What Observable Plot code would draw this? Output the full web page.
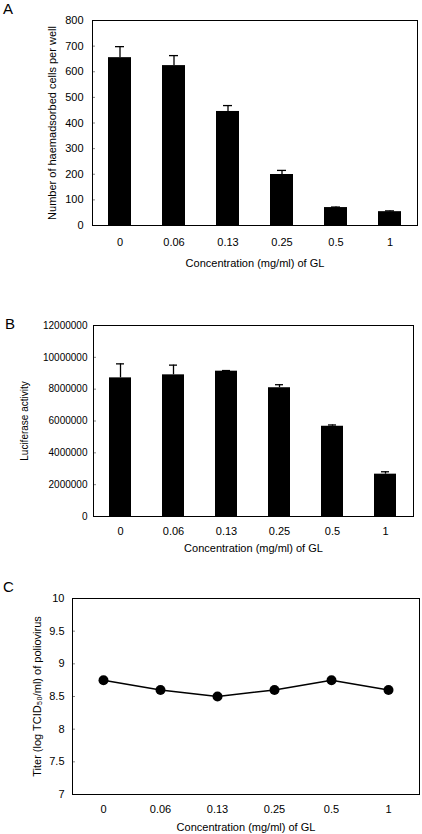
<!DOCTYPE html>
<html><head><meta charset="utf-8">
<script src="https://cdn.jsdelivr.net/npm/d3@7"></script>
<script src="https://cdn.jsdelivr.net/npm/@observablehq/plot@0.6"></script>
<style>
body{margin:0;background:#fff;}
#wrap{position:relative;width:422px;height:834px;font-family:"Liberation Sans",Arial,sans-serif;color:#000;}
.panel{position:absolute;left:0;}
.lbl{position:absolute;font-size:15px;line-height:1;}
</style></head>
<body><div id="wrap"></div>
<script>
const concentrations = ["0","0.06","0.13","0.25","0.5","1"];
const haemCells = [655, 624, 445, 199, 70, 54];
const haemSD = [43, 39, 23, 16, 2, 3];
const luciferase = [8710000, 8900000, 9130000, 8090000, 5670000, 2660000];
const luciferaseSD = [880000, 610000, 40000, 190000, 80000, 150000];
const titer = [8.75, 8.6, 8.5, 8.6, 8.75, 8.6];
const ticksA = [0,100,200,300,400,500,600,700,800];
const ticksB = [0,2000000,4000000,6000000,8000000,10000000,12000000];
const ticksC = [7,7.5,8,8.5,9,9.5,10];
const xTitle = "Concentration (mg/ml) of GL";

const wrap = document.getElementById("wrap");
const font = {fontFamily:'"Liberation Sans",Arial,sans-serif', fontSize:"11px", color:"#000", background:"#fff", overflow:"visible"};

function place(svg, top){ svg.classList.add("panel"); svg.style.top = top+"px"; wrap.appendChild(svg); }
function label(t, x, y){ const d=document.createElement("div"); d.className="lbl"; d.textContent=t; d.style.left=x+"px"; d.style.top=y+"px"; wrap.appendChild(d); }

function barPanel(vals, sds, yTicks, yDomain, yTitle, fmt, dims, tickFont, labelOffset){
  const data = concentrations.map((c,i)=>({c, v: vals[i], e: vals[i]+sds[i]}));
  return Plot.plot({
    width:422, height:dims.h,
    marginLeft:dims.l, marginRight:dims.r, marginTop:dims.t, marginBottom:dims.b,
    style:font,
    x:{domain:concentrations, paddingInner:0.58, paddingOuter:0.29},
    y:{domain:yDomain},
    marks:[
      Plot.ruleX(data,{x:"c", y1:"v", y2:"e", stroke:"#000", strokeWidth:1.3}),
      Plot.tickY(data,{x:"c", y:"e", stroke:"#000", strokeWidth:1.3, insetLeft:7, insetRight:7}),
      Plot.barY(data,{x:"c", y:"v", fill:"#000"}),
      Plot.axisY({ticks:yTicks, tickSize:-3, stroke:"#888", tickFormat:()=>"", label:null}),
      Plot.axisY({ticks:yTicks, tickSize:0, tickPadding:dims.tp, tickFormat:fmt, fontSize:tickFont, label:yTitle, labelAnchor:"center", labelArrow:"none", labelOffset:labelOffset}),
      Plot.axisX({tickSize:0, tickPadding:dims.xp, fontSize:"11px", label: dims.xl ? xTitle : null, labelAnchor:"center", labelArrow:"none", labelOffset:dims.xlo}),
      Plot.frame({stroke:"#000", strokeWidth:1})
    ]
  });
}

// Panel A
place(barPanel(haemCells, haemSD, ticksA, [0,800], "Number of haemadsorbed cells per well", d=>String(d),
  {h:270,l:92,r:5,t:20,b:45,tp:9,xp:13,xl:true,xlo:41}, "11px", 44), 0);
label("A", 3, 1);

// Panel B
place(barPanel(luciferase, luciferaseSD, ticksB, [0,12000000], "Luciferase activity", d=>String(d),
  {h:290,l:93,r:9,t:55,b:44,tp:6,xp:11,xl:true,xlo:35}, "10px", 73), 270);
label("B", 5, 316);

// Panel C
const dataC = concentrations.map((c,i)=>({c, v: titer[i]}));
place(Plot.plot({
  width:422, height:274, marginLeft:72, marginRight:3, marginTop:38, marginBottom:40,
  style:font,
  x:{type:"point", domain:concentrations, padding:0.5},
  y:{domain:[7,10]},
  marks:[
    Plot.lineY(dataC,{x:"c", y:"v", stroke:"#000", strokeWidth:1.5}),
    Plot.dot(dataC,{x:"c", y:"v", r:5, fill:"#000", stroke:"none"}),
    Plot.axisY({ticks:ticksC, tickSize:-3, stroke:"#888", tickFormat:()=>"", label:null}),
    Plot.axisY({ticks:ticksC, tickSize:0, tickPadding:8, tickFormat:d=>String(d), fontSize:"11px", label:"Titer (log TCID\u2085\u2080/ml) of poliovirus", labelAnchor:"center", labelArrow:"none", labelOffset:39}),
    Plot.axisX({tickSize:0, tickPadding:11, fontSize:"11px", label:xTitle, labelAnchor:"center", labelArrow:"none", labelOffset:36}),
    Plot.frame({stroke:"#000", strokeWidth:1})
  ]
}), 560);
label("C", 3, 579);
</script></body></html>
